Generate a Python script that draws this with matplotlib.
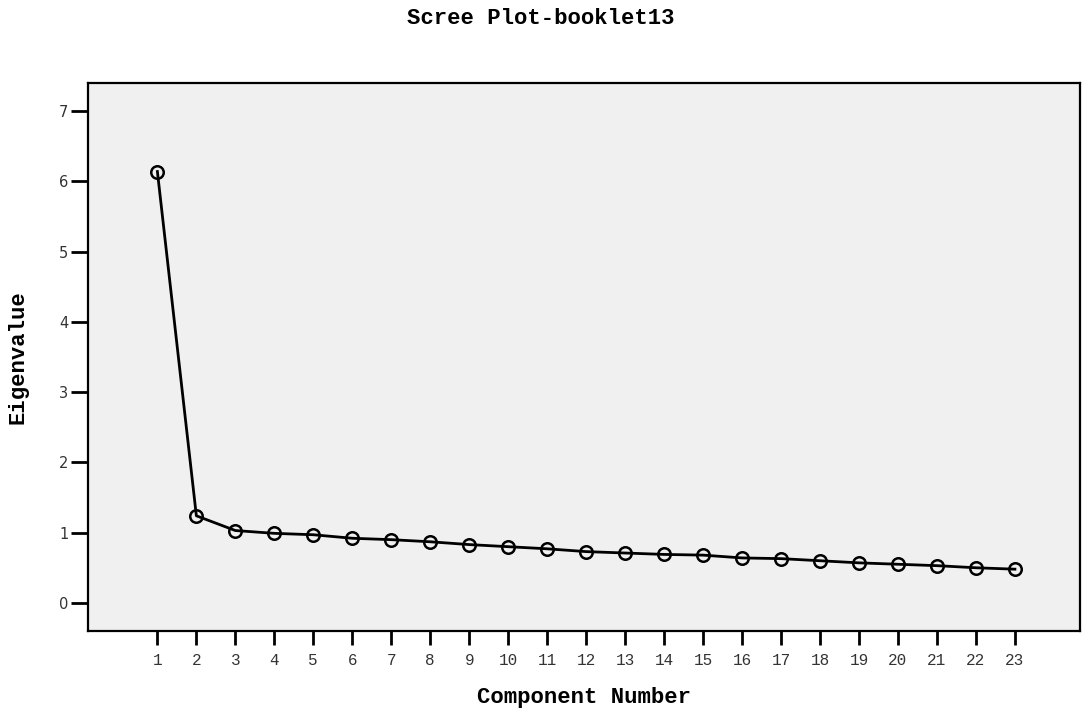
import matplotlib
matplotlib.use("Agg")
import matplotlib.pyplot as plt

# scree plot data
components = list(range(1, 24))
eigenvalues = [6.14, 1.24, 1.03, 0.99, 0.97, 0.92, 0.90, 0.87, 0.83, 0.80,
               0.77, 0.73, 0.71, 0.69, 0.68, 0.64, 0.63, 0.60, 0.57, 0.55,
               0.53, 0.50, 0.48]
y_ticks = [0, 1, 2, 3, 4, 5, 6, 7]

mono = "Liberation Mono"

fig = plt.figure(figsize=(10.82, 7.15), dpi=100)
ax = fig.add_axes([88 / 1082, 1 - 631 / 715, (1080 - 88) / 1082, (631 - 83) / 715])
ax.set_facecolor("#f0f0f0")

ax.plot(components, eigenvalues, color="black", linewidth=2.0,
        marker="o", markersize=9, markerfacecolor="none",
        markeredgecolor="black", markeredgewidth=1.8)

ax.set_xlim(-0.78, 24.67)
ax.set_ylim(-0.4, 7.4)
ax.set_xticks(components)
ax.set_yticks(y_ticks)

ax.tick_params(axis="y", length=12, width=2, pad=2, labelsize=10.5,
               labelcolor="#333333", direction="out")
ax.tick_params(axis="x", length=10, width=2, pad=6, labelsize=11.5,
               labelcolor="#333333", direction="out")
for lbl in ax.get_xticklabels():
    lbl.set_family(mono)
for s in ax.spines.values():
    s.set_linewidth(1.6)

fig.text(0.5, 1 - 18 / 715, "Scree Plot-booklet13", ha="center", va="center",
         fontsize=16, fontweight="bold", family=mono)
fig.text(18 / 1082, 1 - 357 / 715, "Eigenvalue", ha="center", va="center",
         rotation=90, fontsize=16, fontweight="bold", family=mono)
fig.text(584 / 1082, 1 - 698 / 715, "Component Number", ha="center", va="center",
         fontsize=16, fontweight="bold", family=mono)

fig.savefig("out.png", dpi=100)
